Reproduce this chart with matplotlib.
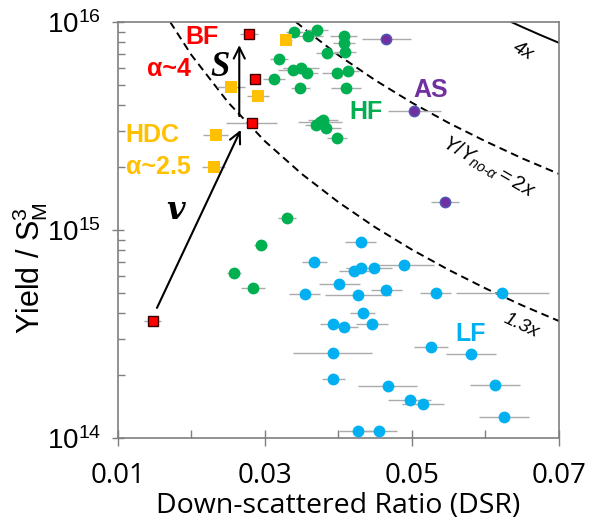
import numpy as np
import matplotlib
matplotlib.use("Agg")
import matplotlib.pyplot as plt
from matplotlib.ticker import FixedLocator, NullFormatter, LogLocator

# ── Fonts ──
plt.rcParams["font.family"] = ["Liberation Sans", "DejaVu Sans"]
plt.rcParams["mathtext.fontset"] = "custom"
plt.rcParams["mathtext.rm"] = "Liberation Sans"
plt.rcParams["mathtext.it"] = "Liberation Sans:italic"
plt.rcParams["mathtext.bf"] = "Liberation Sans:bold"

# ── Data (DSR, Yield / S_M^3, DSR error) ──
bf_x = [0.0278, 0.0286, 0.0282, 0.0147]
bf_y = [8.8e15, 5.3e15, 3.27e15, 3.64e14]
bf_err = [0.0012, 0.0005, 0.0035, 0.0012]

hdc_x = [0.0329, 0.0254, 0.0291, 0.0233, 0.0230]
hdc_y = [8.16e15, 4.85e15, 4.40e15, 2.87e15, 2.01e15]
hdc_err = [0.0008, 0.0019, 0.0015, 0.0017, 0.0016]

hf_x = [0.0340, 0.0359, 0.0371, 0.0385, 0.0319, 0.0338, 0.0349, 0.0357, 0.0312,
        0.0348, 0.0375, 0.0379, 0.0370, 0.0383, 0.0398, 0.0407, 0.0407, 0.0409,
        0.0398, 0.0413, 0.0410, 0.0330, 0.0294, 0.0258, 0.0284]
hf_y = [8.95e15, 8.57e15, 9.16e15, 7.08e15, 6.62e15, 5.87e15, 5.98e15, 5.70e15, 5.32e15,
        4.80e15, 3.32e15, 3.38e15, 3.20e15, 3.08e15, 2.76e15, 8.57e15, 7.94e15, 7.19e15,
        5.70e15, 5.83e15, 4.80e15, 1.14e15, 8.47e14, 6.19e14, 5.25e14]
hf_err = [0.0012, 0.0020, 0.0015, 0.0015, 0.0012, 0.0020, 0.0025, 0.0015, 0.0015,
          0.0013, 0.0030, 0.0020, 0.0015, 0.0020, 0.0013, 0.0018, 0.0015, 0.0015,
          0.0020, 0.0015, 0.0020, 0.0012, 0.0009, 0.0010, 0.0016]

lf_x = [0.0367, 0.0354, 0.0401, 0.0393, 0.0392, 0.0393, 0.0430, 0.0421, 0.0430,
        0.0448, 0.0489, 0.0426, 0.0465, 0.0532, 0.0623, 0.0433, 0.0407, 0.0446,
        0.0526, 0.0580, 0.0467, 0.0613, 0.0497, 0.0515, 0.0625, 0.0426, 0.0455]
lf_y = [7.05e14, 4.92e14, 5.50e14, 3.53e14, 2.57e14, 1.92e14, 8.73e14, 6.35e14, 6.55e14,
        6.59e14, 6.79e14, 4.88e14, 5.15e14, 4.97e14, 4.97e14, 4.01e14, 3.40e14, 3.53e14,
        2.74e14, 2.54e14, 1.77e14, 1.80e14, 1.53e14, 1.45e14, 1.26e14, 1.08e14, 1.08e14]
lf_err = [0.0017, 0.0021, 0.0028, 0.0018, 0.0054, 0.0016, 0.0021, 0.0020, 0.0020,
          0.0025, 0.0041, 0.0045, 0.0021, 0.0021, 0.0063, 0.0017, 0.0019, 0.0022,
          0.0023, 0.0034, 0.0040, 0.0034, 0.0029, 0.0029, 0.0034, 0.0025, 0.0024]

as_x = [0.0465, 0.0503, 0.0545]
as_y = [8.26e15, 3.73e15, 1.37e15]
as_err = [0.0033, 0.0036, 0.0019]

# ── Iso-amplification curves Y/Y_no-alpha ──
c13_x = [0.0171, 0.020, 0.025, 0.030, 0.035, 0.040, 0.045, 0.050, 0.055, 0.060, 0.065, 0.070]
c13_y = [1.0e16, 6.93e15, 4.10e15, 2.67e15, 1.86e15, 1.36e15, 1.03e15, 8.04e14, 6.43e14,
         5.24e14, 4.34e14, 3.65e14]
c2_x = [0.0342, 0.037, 0.040, 0.045, 0.050, 0.055, 0.060, 0.065, 0.070]
c2_y = [1.0e16, 8.35e15, 6.92e15, 5.25e15, 4.09e15, 3.27e15, 2.67e15, 2.21e15, 1.86e15]
c4_x = [0.0635, 0.065, 0.0675, 0.070]
c4_y = [1.0e16, 9.46e15, 8.65e15, 7.94e15]

GRAY = "#ababab"
AXIS = "#7f7f7f"

fig = plt.figure(figsize=(5.9, 5.19), dpi=100)
ax = fig.add_axes([118 / 590, 1 - 438 / 519, 441 / 590, 416 / 519])

# curves
dash = (0, (4, 2.5))
ax.plot(c13_x, c13_y, color="black", lw=1.4, linestyle=dash, zorder=1.5)
ax.plot(c2_x, c2_y, color="black", lw=1.4, linestyle=dash, zorder=1.5)
ax.plot(c4_x, c4_y, color="black", lw=1.4, zorder=1.5)

# error bars + markers
groups = [
    (lf_x, lf_y, lf_err, "o", "#00B0F0", "none", 8.5),
    (hf_x, hf_y, hf_err, "o", "#00B050", "none", 8.5),
    (as_x, as_y, as_err, "o", "#7030A0", "#4a5cb5", 7.5),
    (hdc_x, hdc_y, hdc_err, "s", "#FFC000", "none", 8.0),
    (bf_x, bf_y, bf_err, "s", "#FF0000", "#3a0000", 7.5),
]
for gx, gy, ge, mk, fc, ec, ms in groups:
    ax.errorbar(gx, gy, xerr=ge, fmt="none", ecolor=GRAY, elinewidth=1.0,
                capsize=0, zorder=2)
    ax.plot(gx, gy, mk, ms=ms, mfc=fc, mec=ec, mew=1.0 if ec != "none" else 0,
            linestyle="none", zorder=3)

# arrows
arrow = dict(arrowstyle="->", lw=1.5, color="black", mutation_scale=20,
             shrinkA=0, shrinkB=0)
ax.annotate("", xy=(0.0265, 7.74e15), xytext=(0.0265, 3.53e15), arrowprops=arrow)
ax.annotate("", xy=(0.0267, 3.03e15), xytext=(0.0153, 4.22e14), arrowprops=arrow)

# scales
ax.set_yscale("log")
ax.set_xlim(0.01, 0.07)
ax.set_ylim(1e14, 1e16)

ax.xaxis.set_major_locator(FixedLocator([0.01, 0.03, 0.05, 0.07]))
ax.xaxis.set_minor_locator(FixedLocator([0.02, 0.04, 0.06]))
ax.set_xticklabels(["0.01", "0.03", "0.05", "0.07"], fontsize=20, family="Open Sans")
ax.xaxis.set_minor_formatter(NullFormatter())

ax.yaxis.set_major_locator(FixedLocator([1e14, 1e15, 1e16]))
ax.yaxis.set_minor_locator(LogLocator(base=10, subs=np.arange(2, 10)))
ax.yaxis.set_minor_formatter(NullFormatter())
ax.set_yticklabels([r"$\mathregular{10^{14}}$", r"$\mathregular{10^{15}}$",
                    r"$\mathregular{10^{16}}$"], fontsize=20)

ax.tick_params(axis="x", which="major", direction="inout", length=12, width=1,
               color=AXIS, pad=11)
ax.tick_params(axis="x", which="minor", direction="in", length=6, width=1, color=AXIS)
ax.tick_params(axis="y", which="major", direction="inout", length=8, width=1,
               color=AXIS, pad=8)
ax.tick_params(axis="y", which="minor", direction="in", length=5, width=1, color=AXIS)
for sp in ax.spines.values():
    sp.set_color(AXIS)
    sp.set_linewidth(1.2)

ax.set_xlabel("Down-scattered Ratio (DSR)", fontsize=20.5, family="Open Sans", labelpad=2)
fig.text(30 / 590, 1 - 268 / 519, r"Yield / S$_\mathregular{M}^\mathregular{3}$",
         rotation=90, ha="center", va="center", fontsize=22)

# group labels
T = ax.transAxes
lab = dict(fontsize=18, weight="bold", ha="center", va="center", transform=T)
ax.text(0.190, 0.965, "BF", color="#FF0000", **lab)
ax.text(0.116, 0.887, "α~4", color="#FF0000", **lab)
ax.text(0.078, 0.728, "HDC", color="#FFC000", **lab)
ax.text(0.0915, 0.652, "α~2.5", color="#FFC000", **lab)
ax.text(0.562, 0.784, "HF", color="#00B050", **lab)
ax.text(0.710, 0.837, "AS", color="#7030A0", **lab)
ax.text(0.800, 0.250, "LF", color="#00B0F0", **lab)
ax.text(0.231, 0.890, "S", fontsize=25, weight="bold", style="italic",
        family="Liberation Serif", ha="center", va="center", transform=T)
ax.text(0.1315, 0.548, "v", fontsize=23, weight="bold", style="italic",
        family="DejaVu Serif", ha="center", va="center", transform=T)

# curve labels
ax.text(0.918, 0.930, "4x", fontsize=14, style="italic", rotation=-30,
        ha="center", va="center", transform=T)
ax.text(0.839, 0.652, r"$\mathit{Y/Y}_{\mathit{no}\text{-}\alpha}\mathit{ = 2x}$",
        fontsize=14.5, rotation=-30, ha="center", va="center", transform=T)
ax.text(0.914, 0.269, "1.3x", fontsize=14, style="italic", rotation=-25,
        ha="center", va="center", transform=T)

fig.savefig("out.png", dpi=100)
